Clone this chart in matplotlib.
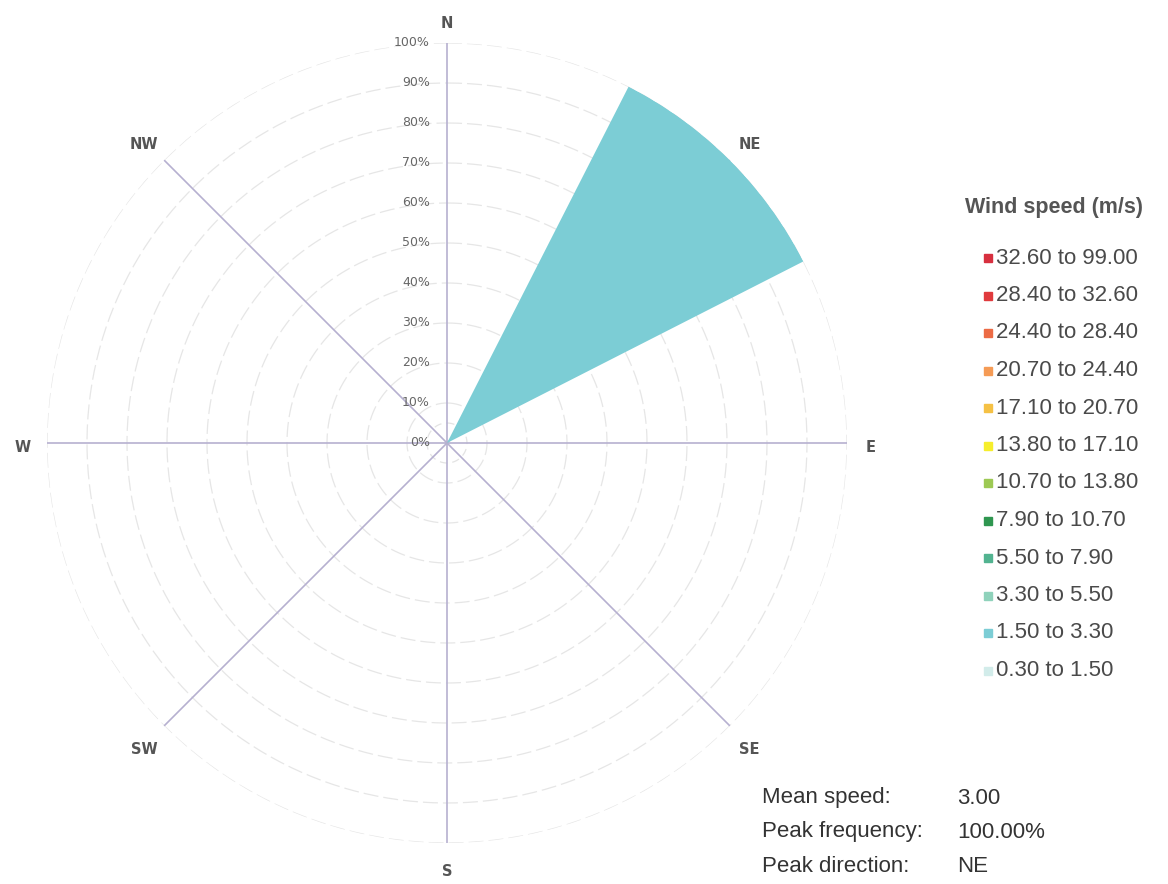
import matplotlib.pyplot as plt
import numpy as np
from matplotlib.patches import Rectangle
from matplotlib.transforms import offset_copy

# --- data ---
directions = ['N', 'NE', 'E', 'SE', 'S', 'SW', 'W', 'NW']
speed_bins = ['0.30 to 1.50', '1.50 to 3.30', '3.30 to 5.50', '5.50 to 7.90',
              '7.90 to 10.70', '10.70 to 13.80', '13.80 to 17.10', '17.10 to 20.70',
              '20.70 to 24.40', '24.40 to 28.40', '28.40 to 32.60', '32.60 to 99.00']
bin_colors = ['#d2ecea', '#7ccdd5', '#8fd2bb', '#52b390', '#2f9650', '#9dc954',
              '#f6ee2c', '#f5c145', '#f59b55', '#ec6b45', '#e03a3d', '#d7303f']
# frequency (%) per speed bin, per direction (N, NE, E, SE, S, SW, W, NW)
freq = [
    [0, 0, 0, 0, 0, 0, 0, 0],
    [0, 100, 0, 0, 0, 0, 0, 0],
    [0, 0, 0, 0, 0, 0, 0, 0],
    [0, 0, 0, 0, 0, 0, 0, 0],
    [0, 0, 0, 0, 0, 0, 0, 0],
    [0, 0, 0, 0, 0, 0, 0, 0],
    [0, 0, 0, 0, 0, 0, 0, 0],
    [0, 0, 0, 0, 0, 0, 0, 0],
    [0, 0, 0, 0, 0, 0, 0, 0],
    [0, 0, 0, 0, 0, 0, 0, 0],
    [0, 0, 0, 0, 0, 0, 0, 0],
    [0, 0, 0, 0, 0, 0, 0, 0],
]
ring_ticks = [0, 10, 20, 30, 40, 50, 60, 70, 80, 90, 100]
stat_names = ['Mean speed:', 'Peak frequency:', 'Peak direction:']
stat_values = ['3.00', '100.00%', 'NE']

plt.rcParams['font.family'] = ['Liberation Sans', 'DejaVu Sans']

W, H = 1168, 884
fig = plt.figure(figsize=(W / 100, H / 100), dpi=100)
cx, cy, R = 447, 443, 400
ax = fig.add_axes([(cx - R) / W, (H - cy - R) / H, 2 * R / W, 2 * R / H], projection='polar')
ax.set_theta_zero_location('N')
ax.set_theta_direction(-1)
ax.set_ylim(0, 100)
ax.grid(False)
ax.set_xticks([])
ax.set_yticks([])
ax.spines['polar'].set_visible(False)
ax.patch.set_alpha(0)

theta = np.deg2rad(np.arange(len(directions)) * 45)

# rings
circ = np.linspace(0, 2 * np.pi, 400)
for r in ring_ticks[1:]:
    ax.plot(circ, np.full_like(circ, r), color='#e6e6e6', lw=0.9,
            ls=(0, (12, 4)), zorder=1)
ax.plot(circ, np.full_like(circ, 5), color='#e3e3e3', lw=0.9, ls=(0, (6, 4)), zorder=1)

# spokes
for th in theta:
    ax.plot([th, th], [0, 100], color='#b6b0d0', lw=1.2, zorder=2)

# stacked bars
bottom = np.zeros(len(directions))
width = np.deg2rad(36)
for vals, c in zip(freq, bin_colors):
    vals = np.array(vals, dtype=float)
    ax.bar(theta, vals, width=width, bottom=bottom, color=c, edgecolor='none', zorder=3)
    bottom += vals

# radial labels
tr = offset_copy(ax.transData, fig=fig, x=-17, y=0, units='dots')
for r in ring_ticks:
    ax.text(0, r, f'{r}%', transform=tr, ha='right', va='center',
            fontsize=9, color='#666666', family='DejaVu Sans', zorder=4)

# direction labels (slightly lowered like the original)
tr_dir = offset_copy(ax.transData, fig=fig, x=0, y=-4, units='dots')
for th, d in zip(theta, directions):
    rr = 106 if d in ('N', 'S', 'E', 'W') else 107
    ax.text(th, rr, d, transform=tr_dir, ha='center', va='center', fontsize=10.5,
            fontweight='bold', color='#555555', family='DejaVu Sans', clip_on=False)

# legend
fig.text(1054 / W, 1 - 208 / H, 'Wind speed (m/s)', ha='center', va='center',
         fontsize=15.5, fontweight='bold', color='#555555')
y0, dy = 258, 37.5
for i, (lab, c) in enumerate(zip(speed_bins[::-1], bin_colors[::-1])):
    y = y0 + i * dy
    fig.add_artist(Rectangle((984 / W, 1 - (y + 4) / H), 8 / W, 8 / H,
                             transform=fig.transFigure, color=c))
    fig.text(996 / W, 1 - y / H, lab, ha='left', va='center',
             fontsize=16, color='#4a4a4a')

# stats
for i, (n, v) in enumerate(zip(stat_names, stat_values)):
    y = 798 + i * 34
    fig.text(762 / W, 1 - y / H, n, ha='left', va='center', fontsize=16, color='#333333')
    fig.text(957 / W, 1 - y / H, v, ha='left', va='center', fontsize=16, color='#333333')

fig.savefig('out.png', dpi=100)
